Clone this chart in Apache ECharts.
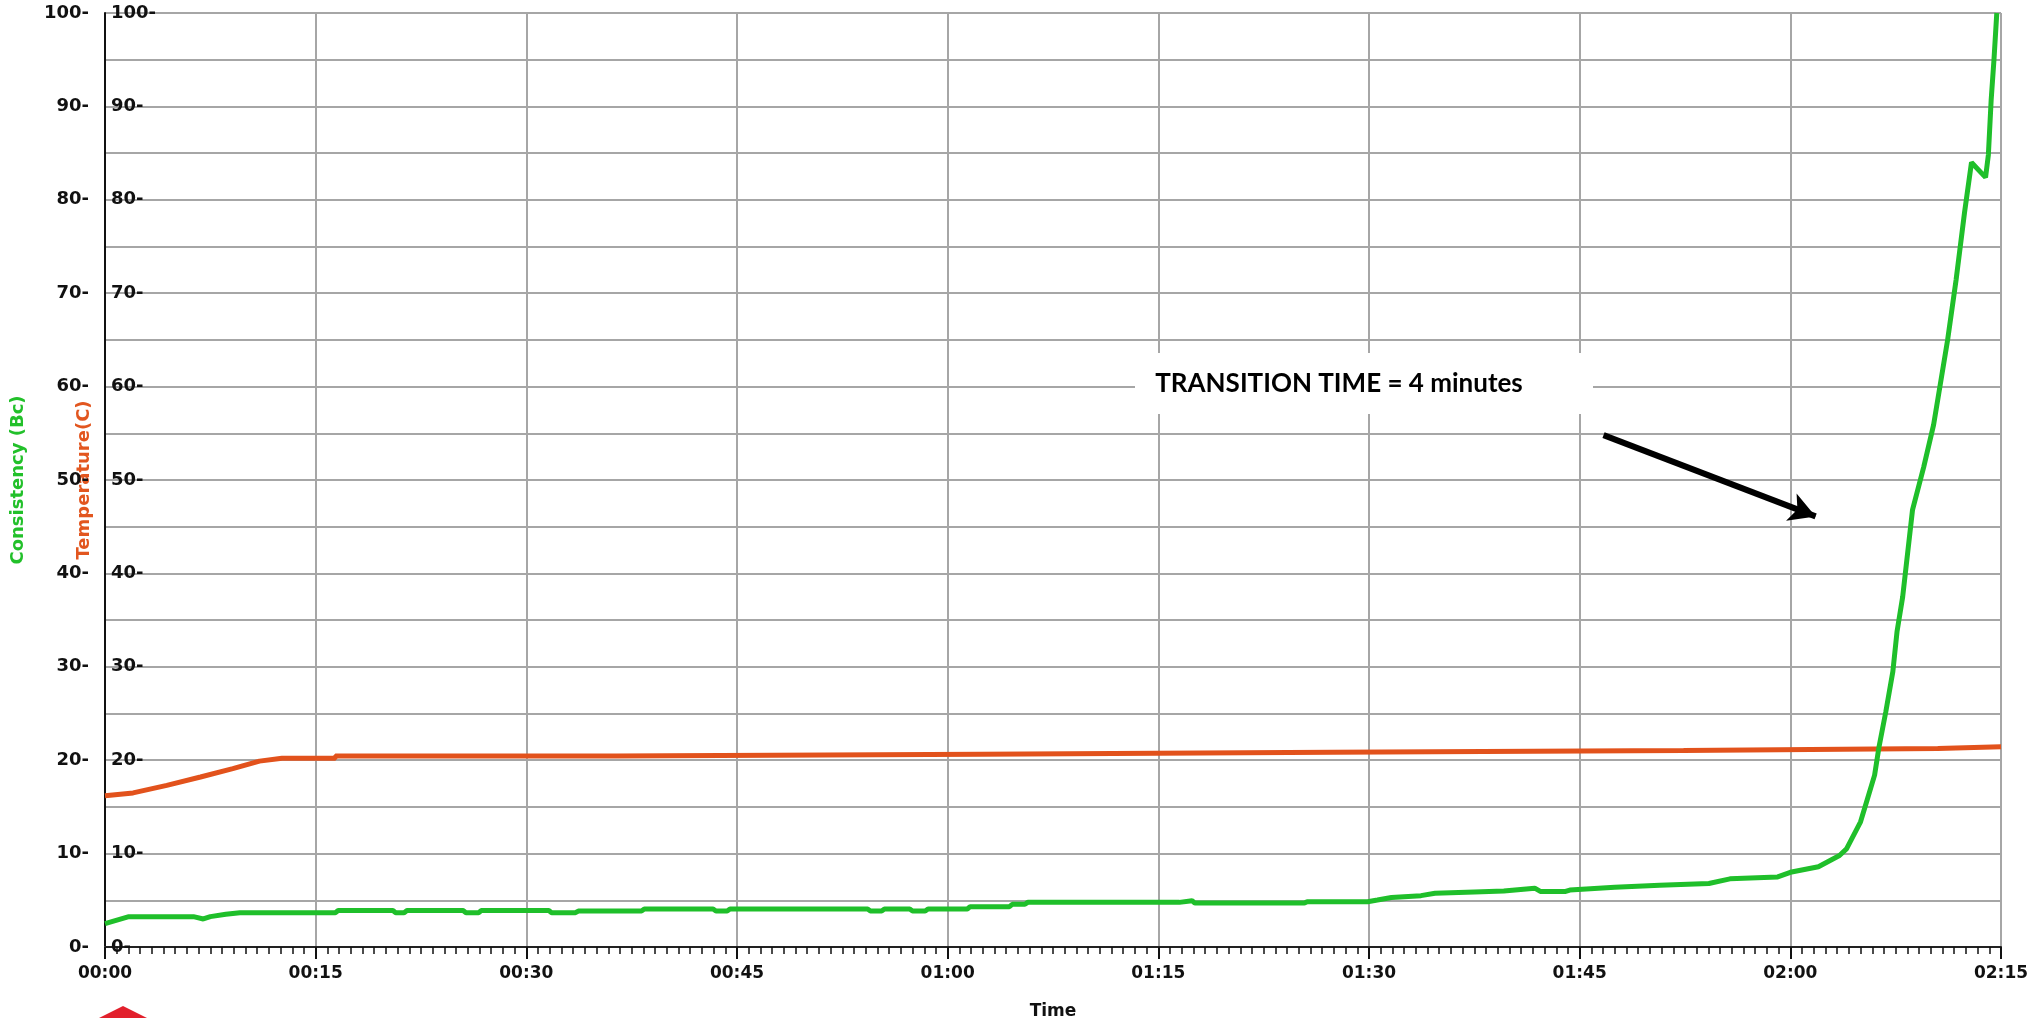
<!DOCTYPE html>
<html>
<head>
<meta charset="utf-8">
<script src="https://cdn.jsdelivr.net/npm/echarts@6/dist/echarts.min.js"></script>
<style>
  html, body { margin: 0; padding: 0; background: #fff; }
  #chart { width: 2040px; height: 1018px; }
</style>
</head>
<body>
<div id="chart"></div>
<script>
// ---- Data (time in minutes) ----
const xTicksMinutes = [0, 15, 30, 45, 60, 75, 90, 105, 120, 135];

const tempTime = [0, 2, 4.4, 6.8, 9.1, 11.0, 12.6, 16.4, 16.4, 36.4, 36.4, 62.4, 62.4, 87.4, 87.4, 112.4, 112.4, 130.5, 130.5, 135];
const tempVal  = [16.2, 16.5, 17.3, 18.2, 19.1, 19.9, 20.2, 20.2, 20.45, 20.45, 20.65, 20.65, 20.85, 20.85, 21.05, 21.05, 21.25, 21.25, 21.45, 21.45];

const consTime = [0, 1.7, 6.3, 7.0, 7.5, 8.6, 9.6, 16.4, 16.6, 20.5, 20.7, 21.3, 21.5, 25.5, 25.7, 26.6, 26.8, 31.6, 31.8, 33.5, 33.7,
  38.2, 38.4, 43.3, 43.5, 44.3, 44.5, 54.3, 54.5, 55.3, 55.5, 57.3, 57.5, 58.4, 58.6, 61.4, 61.6, 64.4, 64.6, 65.5, 65.7,
  76.5, 76.6, 77.4, 77.6, 85.4, 85.6, 89.9, 90.6, 91.6, 93.7, 94.7, 97.5, 99.6, 101.8, 102.2, 104.0, 104.3, 107.5, 110.7,
  114.2, 115.7, 119.1, 120, 122, 123.5, 124, 125, 125.5, 126, 126.3, 126.8, 127.3, 127.6, 128.0, 128.7, 129.5, 130.2,
  131.2, 131.8, 132.4, 132.9, 133.9, 134.1, 134.3, 134.5, 134.7];
const consVal  = [2.5, 3.25, 3.25, 3.0, 3.25, 3.5, 3.67, 3.67, 3.9, 3.9, 3.67, 3.67, 3.9, 3.9, 3.67, 3.67, 3.9, 3.9, 3.67, 3.67, 3.85,
  3.85, 4.07, 4.07, 3.85, 3.85, 4.07, 4.07, 3.85, 3.85, 4.07, 4.07, 3.85, 3.85, 4.07, 4.07, 4.32, 4.32, 4.57, 4.57, 4.78,
  4.78, 4.96, 4.96, 4.7, 4.7, 4.85, 4.85, 5.03, 5.3, 5.5, 5.75, 5.9, 6.0, 6.3, 5.95, 5.95, 6.1, 6.4, 6.6,
  6.8, 7.3, 7.5, 8.0, 8.6, 9.8, 10.5, 13.4, 15.9, 18.4, 21.3, 25.2, 29.5, 33.8, 37.5, 46.8, 51.4, 55.9,
  65, 71.4, 78.6, 84.0, 82.4, 84.8, 90.7, 95, 100];

const annotationText = 'TRANSITION TIME = 4 minutes';
const arrowStart = [106.7, 54.8];
const arrowEnd   = [121.8, 46.1];

// ---- Build ----
const zip = (a, b) => a.map((t, i) => [t, b[i]]);
const fmtTime = v => {
  const h = Math.floor(v / 60), m = Math.round(v % 60);
  return String(h).padStart(2, '0') + ':' + String(m).padStart(2, '0');
};
const labelFont = 'DejaVu Sans';
const yLabelFmt = v => (v % 10 === 0 ? v + '-' : '');

const chart = echarts.init(document.getElementById('chart'));
chart.setOption({
  animation: false,
  backgroundColor: '#fff',
  grid: { left: 105, right: 39, top: 13, bottom: 71, containLabel: false, outerBoundsMode: 'none' },
  xAxis: [{
    type: 'value', min: 0, max: 135, interval: 15,
    name: 'Time', nameLocation: 'middle', nameGap: 56,
    nameTextStyle: { fontFamily: labelFont, fontWeight: 'bold', fontSize: 17, color: '#111' },
    axisLine: { show: true, lineStyle: { color: '#9a9a9a', width: 2 } },
    axisTick: { show: true, length: 12, lineStyle: { color: '#111', width: 2 } },
    minorTick: { show: true, splitNumber: 18, length: 7, lineStyle: { color: '#111', width: 1.5 } },
    axisLabel: { formatter: fmtTime, fontFamily: labelFont, fontWeight: 'bold', fontSize: 17, color: '#111', margin: 18 },
    splitLine: { show: true, lineStyle: { color: '#a6a6a6', width: 2 } }
  }, {
    type: 'value', min: 0, max: 135, position: 'top',
    axisLine: { show: true, lineStyle: { color: '#222', width: 2 } },
    axisTick: { show: false }, axisLabel: { show: false }, splitLine: { show: false }
  }],
  yAxis: [{
    type: 'value', min: 0, max: 100, interval: 5, position: 'left',
    name: 'Consistency (Bc)', nameLocation: 'middle', nameGap: 78, nameRotate: 90,
    nameTextStyle: { fontFamily: labelFont, fontWeight: 'bold', fontSize: 18, color: '#22c02a' },
    axisLine: { show: true, lineStyle: { color: '#111', width: 2 } },
    axisTick: { show: false },
    axisLabel: { formatter: yLabelFmt, fontFamily: labelFont, fontWeight: 'bold', fontSize: 18, color: '#111', margin: 16 },
    splitLine: { show: true, lineStyle: { color: '#a6a6a6', width: 2 } }
  }, {
    type: 'value', min: 0, max: 100, interval: 5, position: 'left',
    name: 'Temperature(C)', nameLocation: 'middle', nameGap: 12, nameRotate: 90,
    nameTextStyle: { fontFamily: labelFont, fontWeight: 'bold', fontSize: 18, color: '#e2561f' },
    axisLine: { show: false },
    axisTick: { show: false },
    axisLabel: { inside: true, formatter: yLabelFmt, fontFamily: labelFont, fontWeight: 'bold', fontSize: 18, color: '#111', margin: 6 },
    splitLine: { show: false }
  }],
  series: [{
    name: 'Temperature', type: 'line', yAxisIndex: 1, data: zip(tempTime, tempVal),
    showSymbol: false, smooth: false, lineStyle: { color: '#e2521c', width: 5 }, z: 3
  }, {
    name: 'Consistency', type: 'line', yAxisIndex: 0, data: zip(consTime, consVal),
    showSymbol: false, smooth: false, lineStyle: { color: '#1fbf2a', width: 5 }, z: 4,
    markLine: {
      silent: true, symbol: ['none', 'arrow'], symbolSize: [22, 26],
      label: { show: false },
      lineStyle: { color: '#000', width: 6, type: 'solid' },
      data: [[{ coord: arrowStart }, { coord: arrowEnd }]]
    }
  }],
  graphic: [
    { type: 'rect', z: 50, shape: { x: 1135, y: 353, width: 458, height: 61 }, style: { fill: '#ffffff' } },
    { type: 'text', z: 51, x: 1339, y: 384, style: { text: annotationText, font: 'bold 26px Lato', fill: '#000', align: 'center', verticalAlign: 'middle' } },
    { type: 'polygon', z: 50, shape: { points: [[99, 1018], [123, 1006], [147, 1018]] }, style: { fill: '#e2202c' } }
  ]
});
</script>
</body>
</html>
